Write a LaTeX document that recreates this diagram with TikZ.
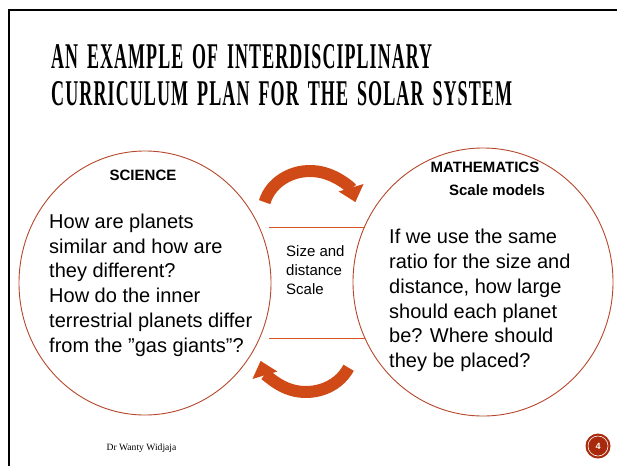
\documentclass[tikz,border=0pt]{standalone}
\usepackage{fontspec}
\usepackage{graphicx}
\setmainfont{Liberation Sans}
\newfontfamily\titlefont[LetterSpace=6,WordSpace=1.6]{Liberation Serif}
\newfontfamily\footfont{Liberation Serif}
\usetikzlibrary{shapes.geometric,arrows.meta}
\definecolor{arcred}{HTML}{B5472B}
\definecolor{arrowred}{HTML}{D04A18}
\definecolor{linered}{HTML}{D9531E}
\definecolor{pagered}{HTML}{A8290C}
\tikzset{
  subject/.style={ellipse,draw=arcred,line width=.9pt,inner sep=0pt},
  subjhead/.style={inner sep=0pt,font=\fontsize{15}{18}\selectfont\bfseries},
  question/.style={align=left,anchor=north west,inner sep=0pt,font=\fontsize{20}{24.8}\selectfont},
  linkbox/.style={align=left,anchor=north west,inner sep=0pt,font=\fontsize{15}{19}\selectfont},
  bridge/.style={draw=linered,line width=.9pt},
  turn/.style={line width=12pt,draw=arrowred,-{Triangle[length=15pt,width=25pt]}},
  titletext/.style={anchor=west,inner sep=0pt,font=\titlefont\bfseries},
  pagebadge/.style={circle,fill=pagered,inner sep=0pt,minimum size=25pt}
}
\begin{document}
\begin{tikzpicture}[x=1pt,y=-1pt]
  \useasboundingbox (0,0) rectangle (617,466);

  % --- frame ---
  \draw[line width=2pt] (9,466) -- (9,10) -- (617,10);

  % --- title ---
  \node[titletext] (t1) at (51,57) {\resizebox{381pt}{24pt}{AN EXAMPLE OF INTERDISCIPLINARY}};
  \node[titletext] (t2) at (51,94) {\resizebox{461pt}{24pt}{CURRICULUM PLAN FOR THE SOLAR SYSTEM}};

  % --- the two subjects ---
  \node[subject,minimum width=252pt,minimum height=264pt] (sci) at (145,283) {};
  \node[subject,minimum width=260pt,minimum height=268pt] (math) at (483,282) {};

  \node[subjhead] (scihd) at (143,175) {SCIENCE};
  \node[question] (sciq) at (49,213.5) {How are planets\\similar and how are\\they different?\\How do the inner\\terrestrial planets differ\\from the ”gas giants”?};

  \node[subjhead] (mathhd) at (485,167) {MATHEMATICS};
  \node[subjhead] (mathsub) at (497,190) {Scale models};
  \node[question] (mathq) at (389,229) {If we use the same\\ratio for the size and\\distance, how large\\should each planet\\be? Where should\\they be placed?};

  % --- link in the middle ---
  \coordinate (bl1) at (269,227);
  \coordinate (br1) at (365,227);
  \coordinate (bl2) at (269,338);
  \coordinate (br2) at (365,338);
  \draw[bridge] (bl1) -- (br1);
  \draw[bridge] (bl2) -- (br2);
  \node[linkbox] (link) at (286,245) {Size and\\distance\\Scale};

  % --- curved arrows ---
  \coordinate (up) at (310,213);
  \coordinate (down) at (306,350);
  \draw[turn] ([shift={(195:47 and 42)}]up) arc[start angle=195,end angle=345,x radius=47,y radius=42];
  \draw[turn] ([shift={(25:47 and 42)}]down) arc[start angle=25,end angle=165,x radius=47,y radius=42];

  % --- footer ---
  \node[inner sep=0pt,font=\footfont\fontsize{9.6}{11}\selectfont] (foot) at (141.5,448) {Dr Wanty Widjaja};
  \node[pagebadge] (pg) at (598,446) {};
  \draw[white,line width=.6pt] (pg) circle[radius=10pt];
  \node[text=white,font=\fontsize{9}{10}\selectfont\bfseries] (pgno) at (pg) {4};
\end{tikzpicture}
\end{document}
